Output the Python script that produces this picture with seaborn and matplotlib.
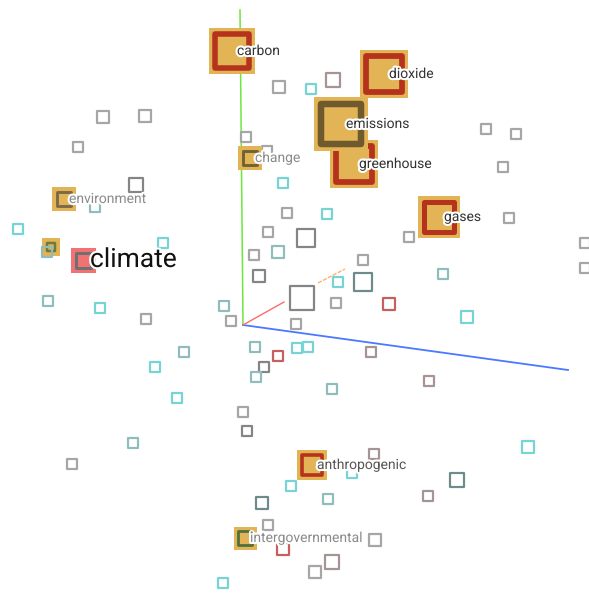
import seaborn as sns
import matplotlib.pyplot as plt
import matplotlib.patheffects as pe
import numpy as np
import pandas as pd

# plain points (pixel position, visible side, tone)
pt_x = [279, 103, 145, 78, 246, 267, 136, 95, 18, 47, 163, 283, 287, 268, 254, 259, 278, 48, 100, 146,
        184, 155, 177, 243, 247, 133, 72, 291, 262, 268, 283, 223, 333, 311, 486, 516, 503, 327, 306, 409,
        509, 585, 585, 363, 443, 338, 363, 302, 336, 389, 224, 231, 296, 255, 308, 297, 278, 264, 371, 256,
        467, 429, 332, 528, 374, 352, 457, 428, 328, 375, 332, 315]
pt_y = [87, 117, 116, 147, 137, 151, 185, 207, 229, 252, 243, 183, 213, 232, 255, 276, 252, 301, 308, 319,
        352, 367, 398, 412, 431, 443, 464, 486, 503, 525, 549, 583, 80, 89, 129, 134, 167, 214, 238, 237,
        218, 243, 268, 260, 274, 282, 282, 298, 303, 304, 306, 321, 324, 347, 347, 348, 356, 367, 352, 377,
        317, 381, 389, 447, 454, 473, 480, 496, 499, 540, 562, 572]
pt_side = [14, 15, 15, 12, 13, 13, 17, 13, 12, 13, 12, 12, 12, 13, 13, 14, 15, 13, 13, 13,
           13, 12, 12, 13, 13, 13, 13, 13, 14, 12, 14, 12, 17, 12, 13, 13, 13, 13, 20, 12,
           12, 12, 12, 13, 12, 13, 20, 26, 12, 15, 12, 13, 12, 12, 13, 12, 12, 12, 12, 12,
           14, 12, 12, 15, 13, 12, 16, 13, 13, 14, 16, 14]
pt_tone = ["gray", "gray", "gray", "gray", "gray", "gray", "dark", "teal2", "teal", "teal2",
           "teal", "teal", "gray", "gray", "gray", "dark", "teal2", "teal2", "teal", "gray",
           "teal2", "teal", "teal", "gray", "dark", "teal2", "gray", "teal", "slate", "gray",
           "red", "teal", "brown", "teal", "gray", "gray", "gray", "teal", "dark", "gray",
           "gray", "gray", "gray", "gray", "teal2", "teal", "slate", "dark", "gray", "red",
           "teal2", "gray", "gray", "teal2", "teal", "teal", "red", "dark", "brown", "teal2",
           "teal", "brown", "teal2", "teal", "brown", "teal", "slate", "brown", "teal2", "gray",
           "brown", "gray"]

# highlighted neighbours
words = ["greenhouse", "dioxide", "emissions", "carbon", "gases", "change", "environment", "",
         "climate", "anthropogenic", "intergovernmental"]
word_x = [354, 384, 341, 232, 439, 250, 64, 51, 83, 312, 245]
word_y = [164, 74, 124, 51, 217, 158, 199, 247, 260, 465, 538]
word_side = [48, 48, 54, 46, 42, 24, 24, 18, 25, 30, 23]
word_fill = ["#e2b455", "#e2b455", "#e2b455", "#e2b455", "#e2b455", "#e2b455", "#e2b455", "#e2b455",
             "#f07272", "#e2b455", "#e2b455"]
word_inner = ["#b5321c", "#b5321c", "#6e5a2c", "#b5321c", "#b5321c", "#6e6234", "#7a6a48", "#6e7a40",
              "#707070", "#b5321c", "#4e7040"]
word_color = ["#333333", "#333333", "#333333", "#333333", "#333333", "#8a8a8a", "#8a8a8a", "#333333",
              "#111111", "#555555", "#8a8a8a"]
word_size = [10, 10, 10, 10, 10, 10, 10, 10, 19, 10, 10]

# 3d axes of the projection
green_axis = ([240, 243], [10, 325])
blue_axis = ([243, 568], [325, 370])
red_axis = ([243, 284], [325, 302])
orange_axis = ([318, 345], [283, 269])

tones = {"gray": "#a6a6a6", "dark": "#858585", "teal": "#78d4d4", "teal2": "#8fbcbc",
         "slate": "#6f8a8a", "brown": "#a69494", "red": "#c85e5e"}

PX = 0.72  # points per pixel at dpi 100

fig = plt.figure(figsize=(5.89, 5.93), dpi=100)
ax = fig.add_axes([0, 0, 1, 1])

ax.plot(*green_axis, color="#6ce83a", lw=1.1, zorder=1)
ax.plot(*blue_axis, color="#4a78ff", lw=1.3, zorder=1)
ax.plot(*red_axis, color="#ff6a6a", lw=1.0, zorder=1)
ax.plot(*orange_axis, color="#ffb070", lw=1.0, zorder=1, ls=(0, (3, 1)))

pts = pd.DataFrame({"x": pt_x, "y": pt_y, "side": pt_side, "tone": pt_tone})
for tone, grp in pts.groupby("tone"):
    sns.scatterplot(x=grp["x"].values, y=grp["y"].values, marker="s", color=tones[tone], ax=ax,
                    legend=False, zorder=2)
    coll = ax.collections[-1]
    coll.set_facecolor("none")
    coll.set_edgecolor(tones[tone])
    coll.set_linewidth(2.2 * PX)
    coll.set_sizes(((grp["side"].values - 2.2) * PX) ** 2)

for i, w in enumerate(words):
    side = word_side[i]
    z = 3 + i * 0.1 if w else 1.5
    sns.scatterplot(x=[word_x[i]], y=[word_y[i]], marker="s", color=word_fill[i], ax=ax,
                    legend=False, zorder=z)
    c = ax.collections[-1]
    c.set_edgecolor("none")
    c.set_sizes([(side * PX) ** 2])
    ew = max(2.5, side * 0.12)
    sns.scatterplot(x=[word_x[i]], y=[word_y[i]], marker="s", color=word_inner[i], ax=ax,
                    legend=False, zorder=z + 0.01)
    c = ax.collections[-1]
    c.set_facecolor("none")
    c.set_edgecolor(word_inner[i])
    c.set_linewidth(ew * PX)
    c.set_sizes([((side - 7 - ew) * PX) ** 2])

for i, w in enumerate(words):
    if not w:
        continue
    off = 7 if word_size[i] > 12 else 5
    ax.text(word_x[i] + off, word_y[i], w, fontsize=word_size[i], color=word_color[i],
            family="Roboto", va="center", ha="left", zorder=5,
            path_effects=[pe.withStroke(linewidth=3, foreground="white")])

ax.set_xlim(0, 589)
ax.set_ylim(593, 0)
ax.axis("off")
fig.savefig("out.png", dpi=100)
